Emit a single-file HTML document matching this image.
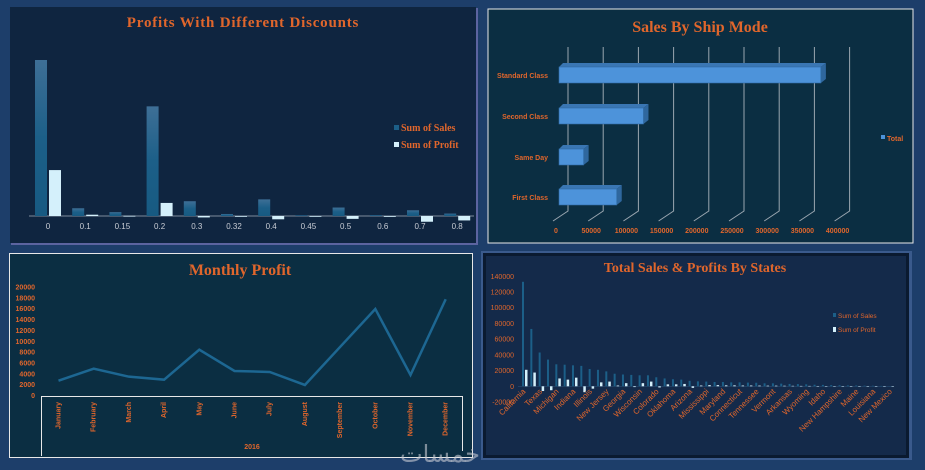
<!DOCTYPE html>
<html><head><meta charset="utf-8"><style>
html,body{margin:0;padding:0;background:#1b3a66;}
svg{display:block;}
.t{font-family:"Liberation Serif",serif;font-weight:bold;fill:#e0662c;}
.s{font-family:"Liberation Sans",sans-serif;}
</style></head><body>
<svg id="c" width="925" height="470" viewBox="0 0 925 470" xmlns="http://www.w3.org/2000/svg">
<rect x="0" y="0" width="925" height="470" fill="#1d3e6a"/>
<!-- panel 1 -->
<rect x="11" y="8" width="467" height="237" fill="#5c64a0"/>
<rect x="10" y="7" width="466" height="236" fill="#0f2540"/>
<text class="t" x="243" y="27" font-size="15" text-anchor="middle" letter-spacing="0.8">Profits With Different Discounts</text>
<g id="g1"></g>
<!-- panel 2 -->
<rect x="488" y="9" width="425" height="234" fill="#0b2e42" stroke="#e8e8e8" stroke-width="1"/>
<text class="t" x="700" y="32" font-size="16" text-anchor="middle">Sales By Ship Mode</text>
<g id="g2"></g>
<!-- panel 3 -->
<rect x="9.5" y="253.5" width="463" height="204" fill="#0b2e42" stroke="#e8e8e8" stroke-width="1"/>
<text class="t" x="240" y="275" font-size="16" text-anchor="middle">Monthly Profit</text>
<g id="g3"></g>
<!-- panel 4 -->
<rect x="481" y="251" width="431" height="209" fill="#3a5a8c"/>
<rect x="483" y="253" width="426" height="205" fill="#0a1a30"/>
<rect x="486" y="256" width="420" height="199" fill="#142a4a"/>
<text class="t" x="695" y="272" font-size="14" text-anchor="middle">Total Sales &amp; Profits By States</text>
<g id="g4"></g>
<text x="440" y="462" font-family="DejaVu Sans,sans-serif" font-size="24" fill="#c8ccd4" fill-opacity="0.6" text-anchor="middle">خمسات</text>
</svg>
<script>
// ---- chart 1 data ----
const discCats = ["0","0.1","0.15","0.2","0.3","0.32","0.4","0.45","0.5","0.6","0.7","0.8"];
const discSales = [1087000,54000,27000,764000,103000,14000,116000,5000,59000,6000,40000,17000];
const discProfit = [320000,9000,1400,91000,-10000,-2000,-23000,-2500,-20000,-6000,-40000,-31000];
// ---- chart 2 data ----
const shipCats = ["Standard Class","Second Class","Same Day","First Class"];
const shipSales = [372000,120000,35000,82000];
const shipTicks = [0,50000,100000,150000,200000,250000,300000,350000,400000];
// ---- chart 3 data ----
const months = ["January","February","March","April","May","June","July","August","September","October","November","December"];
const monthProfit = [2730,4950,3470,2920,8450,4520,4340,1940,8950,15950,3780,17740];
const monthTicks = [0,2000,4000,6000,8000,10000,12000,14000,16000,18000,20000];
// ---- chart 4 data ----
const states = ["California","New York","Texas","Pennsylvania","Michigan","Washington","Indiana","Florida","Illinois","Ohio","New Jersey","Virginia","Georgia","Kentucky","Wisconsin","Minnesota","Colorado","Delaware","Oklahoma","Alabama","Arizona","Rhode Island","Mississippi","Missouri","Maryland","Utah","Connecticut","Nevada","Tennessee","Oregon","Vermont","Massachusetts","Arkansas","South Carolina","Wyoming","Nebraska","Idaho","Iowa","New Hampshire","Montana","Maine","Kansas","Louisiana","West Virginia","New Mexico"];
const stateSales = [133000,73000,43000,34000,28000,27500,26700,26000,22000,21000,19000,16000,15000,14500,14000,14000,11500,10000,9000,8500,7000,6300,6000,5500,5500,5000,5000,4700,4500,3800,3800,3400,3000,2800,2500,2000,1800,1500,1300,1100,1000,800,700,500,300];
const stateProfit = [21000,17500,-6000,-5000,10000,8500,11000,-7500,-3000,5000,6000,1000,4000,-1000,4000,6000,-1500,2500,2500,3000,-2000,1000,1500,1500,1200,1200,1000,1000,900,800,800,700,600,500,500,400,300,300,200,200,200,150,100,100,100];
const stateTicks = [-20000,0,20000,40000,60000,80000,100000,120000,140000];

const NS="http://www.w3.org/2000/svg";
function mk(parent,tag,attrs,txt){const e=document.createElementNS(NS,tag);for(const k in attrs)e.setAttribute(k,attrs[k]);if(txt!==undefined)e.textContent=txt;parent.appendChild(e);return e;}
const ORANGE="#e0662c";

// ---- chart 1 ----
(function(){
  const g=document.getElementById('g1');
  const base=216, k=156/1087000, x0=48, step=37.2;
  const xC=i=>x0+i*step, yV=v=>base-v*k;
  const grad=mk(mk(g,'defs',{}),'linearGradient',{id:'sg',x1:0,y1:0,x2:0,y2:1});
  mk(grad,'stop',{offset:'0','stop-color':'#3e6f96'});mk(grad,'stop',{offset:'0.5','stop-color':'#1c5f88'});mk(grad,'stop',{offset:'1','stop-color':'#175a82'});
  mk(g,'line',{x1:29,y1:base,x2:474,y2:base,stroke:'#7d8b9b','stroke-width':1});
  discCats.forEach((c,i)=>{
    const ys=yV(discSales[i]);
    const r=mk(g,'rect',{x:xC(i)-13,y:ys,width:12,height:base-ys,fill:'url(#sg)'});
    
    
    const p=discProfit[i], yp=yV(Math.max(p,0)), h=Math.max(Math.abs(p*k),0.8);
    const r2=mk(g,'rect',{x:xC(i)+1,y:yp,width:12,height:h,fill:'#d4f0fb'});
    
    
    const t=mk(g,'text',{x:xC(i),y:229,'font-size':8,fill:'#c8ccd4','text-anchor':'middle',class:'s'},c);
    
    
  });
  const l1=mk(g,'rect',{x:394,y:125,width:5,height:5,fill:'#1c5f88'});
  
  
  const l2=mk(g,'text',{x:401,y:131,'font-size':10,class:'t'},'Sum of Sales');
  
  
  const l3=mk(g,'rect',{x:394,y:142,width:5,height:5,fill:'#d4f0fb'});
  
  
  const l4=mk(g,'text',{x:401,y:148,'font-size':10,class:'t'},'Sum of Profit');
  
  
})();

// ---- chart 2 ----
(function(){
  const g=document.getElementById('g2');
  const x0=559, k=35.2/50000;
  const xV=v=>x0+v*k;
  shipTicks.forEach(t=>{
    const gx=xV(t)+9;
    const ln=mk(g,'polyline',{points:`${gx},47 ${gx},211 ${gx-15},221`,fill:'none',stroke:'#9aa6b0','stroke-width':1});
    
    
    const tx=mk(g,'text',{x:xV(t)-3+ (t===0?0:0),y:233,'font-size':7,'font-weight':'bold',fill:ORANGE,'text-anchor':t===0?'middle':'middle',class:'s'},String(t));
    
    
  });
  const yc=[75,116,157,197];
  shipCats.forEach((c,i)=>{
    const xe=xV(shipSales[i]), y=yc[i]-8;
    const top=mk(g,'polygon',{points:`${x0},${y} ${x0+4},${y-4} ${xe+5},${y-4} ${xe},${y}`,fill:'#3a76b3'});
    
    
    const side=mk(g,'polygon',{points:`${xe},${y} ${xe+5},${y-4} ${xe+5},${y+12} ${xe},${y+16}`,fill:'#2f679e'});
    
    
    const r=mk(g,'rect',{x:x0,y:y,width:xe-x0,height:16,fill:'#4d93da',stroke:'#2f6aa3','stroke-width':0.6});
    
    
    const t=mk(g,'text',{x:548,y:yc[i]+3,'font-size':7,'font-weight':'bold',fill:ORANGE,'text-anchor':'end',class:'s'},c);
    
    
  });
  const ls=mk(g,'rect',{x:881,y:135,width:4,height:4,fill:'#4d93da'});
  
  
  const lt=mk(g,'text',{x:887,y:141,'font-size':7,'font-weight':'bold',fill:ORANGE,class:'s'},'Total');
  
  
})();

// ---- chart 3 ----
(function(){
  const g=document.getElementById('g3');
  const base=395.5, k=108.5/20000, x0=58.5, step=35.2;
  const xC=i=>x0+i*step, yV=v=>base-v*k;
  monthTicks.forEach(t=>{
    const tx=mk(g,'text',{x:35,y:yV(t)+2.5,'font-size':7,'font-weight':'bold',fill:ORANGE,'text-anchor':'end',class:'s'},String(t));
    
    
  });
  const box=mk(g,'polyline',{points:'41.5,456 41.5,396.5 462.5,396.5 462.5,451',fill:'none',stroke:'#e8e8e8','stroke-width':1});
  
  
  const pts=monthProfit.map((v,i)=>xC(i)+','+yV(v)).join(' ');
  const ln=mk(g,'polyline',{points:pts,fill:'none',stroke:'#1d6792','stroke-width':2.5,'stroke-linejoin':'miter'});
  
  
  months.forEach((m,i)=>{
    const x=xC(i)+2, y=402;
    const t=mk(g,'text',{x:x,y:y,'font-size':7,'font-weight':'bold',fill:ORANGE,'text-anchor':'end',class:'s',transform:`rotate(-90 ${x} ${y})`},m);
    
    
  });
  const yr=mk(g,'text',{x:252,y:449,'font-size':7,'font-weight':'bold',fill:ORANGE,'text-anchor':'middle',class:'s'},'2016');
  
  
})();

// ---- chart 4 ----
(function(){
  const g=document.getElementById('g4');
  const base=386.3, k=110/140000, x0=523, step=8.33;
  const xC=i=>x0+i*step, yV=v=>base-v*k;
  stateTicks.forEach(t=>{
    const tx=mk(g,'text',{x:514,y:yV(t)+2.5,'font-size':7,fill:ORANGE,'text-anchor':'end',class:'s'},String(t));
    
    
  });
  mk(g,'line',{x1:518,y1:base,x2:893,y2:base,stroke:'#2a4a70','stroke-width':0.6});
  states.forEach((s,i)=>{
    const ys=yV(stateSales[i]);
    const r=mk(g,'rect',{x:xC(i)-1,y:ys,width:2,height:base-ys,fill:'#1c5f88'});
    
    
    const p=stateProfit[i], yp=yV(Math.max(p,0)), h=Math.max(Math.abs(p*k),0.5);
    const r2=mk(g,'rect',{x:xC(i)+2,y:yp,width:2.5,height:h,fill:'#d4f0fb'});
    
    
    if(i%2===0){
      const x=xC(i)+3, y=392;
      const t=mk(g,'text',{x:x,y:y,'font-size':8,fill:ORANGE,'text-anchor':'end',class:'s',transform:`rotate(-45 ${x} ${y})`},s);
      
      
    }
  });
  const a=mk(g,'rect',{x:833,y:313,width:3,height:4,fill:'#1c5f88'});
  
  
  const b=mk(g,'text',{x:838,y:318,'font-size':6.5,fill:ORANGE,class:'s'},'Sum of Sales');
  
  
  const c=mk(g,'rect',{x:833,y:327,width:3,height:5,fill:'#d4f0fb'});
  
  
  const d=mk(g,'text',{x:838,y:332,'font-size':6.5,fill:ORANGE,class:'s'},'Sum of Profit');
  
  
})();
</script>
</body></html>
